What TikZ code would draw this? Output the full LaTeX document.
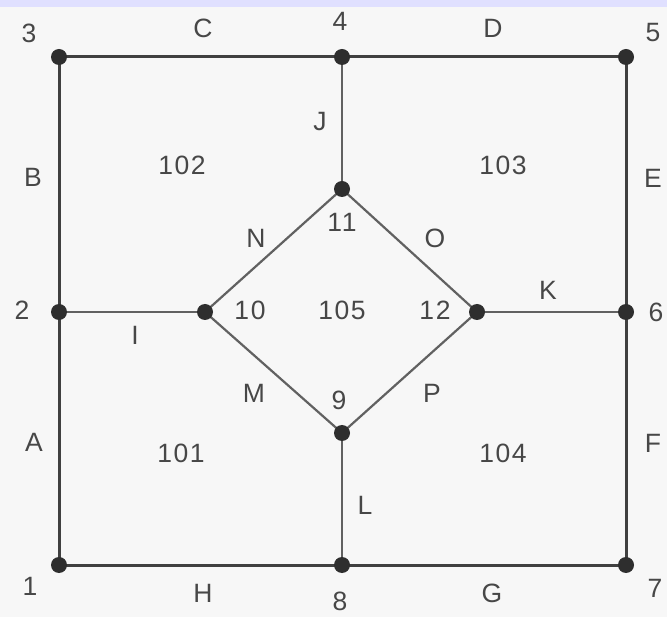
\documentclass[tikz,border=0pt]{standalone}
\usepackage{fontspec}
\setmainfont{Liberation Sans}
\newfontfamily\lblfont[LetterSpace=6]{Liberation Sans}
\begin{document}
\begin{tikzpicture}[x=1pt,y=-1pt,
  outer/.style={draw=black!75,line width=3pt},
  inner/.style={draw=black!62,line width=2.2pt},
  vtx/.style={circle,fill=black!82,inner sep=0pt,minimum size=16pt},
  lbl/.style={text=black!72,font=\lblfont\fontsize{26.5}{26.5}\selectfont,inner sep=0pt}]
\fill[white!97!black] (0,0) rectangle (667,617);
\fill[blue!12] (0,0) rectangle (667,7);
\useasboundingbox (0,0) rectangle (667,617);
% vertices
\coordinate (p1) at (59,565);
\coordinate (p2) at (59,312);
\coordinate (p3) at (59,57);
\coordinate (p4) at (342,57);
\coordinate (p5) at (626,57);
\coordinate (p6) at (626,312);
\coordinate (p7) at (626,565);
\coordinate (p8) at (342,565);
\coordinate (p9) at (342,433);
\coordinate (p10) at (205,312);
\coordinate (p11) at (342,189);
\coordinate (p12) at (477,312);
% edges
\draw[outer] (p1) -- (p2) -- (p3) -- (p4) -- (p5) -- (p6) -- (p7) -- (p8) -- cycle;
\draw[inner] (p2) -- (p10);
\draw[inner] (p4) -- (p11);
\draw[inner] (p12) -- (p6);
\draw[inner] (p9) -- (p8);
\draw[inner] (p10) -- (p11) -- (p12) -- (p9) -- cycle;
\foreach \p in {p1,p2,p3,p4,p5,p6,p7,p8,p9,p10,p11,p12}
  \node[vtx] (n\p) at (\p) {};
% vertex labels
\node[lbl] (l1) at (30,586) {1};
\node[lbl] (l2) at (22,310) {2};
\node[lbl] (l3) at (29,33) {3};
\node[lbl] (l4) at (340,21) {4};
\node[lbl] (l5) at (653,33) {5};
\node[lbl] (l6) at (656,312) {6};
\node[lbl] (l7) at (655,588) {7};
\node[lbl] (l8) at (340,601) {8};
\node[lbl] (l9) at (339,400) {9};
\node[lbl] (l10) at (250,310) {10};
\node[lbl] (l11) at (342,222) {11};
\node[lbl] (l12) at (435,310) {12};
% edge labels
\node[lbl] (eA) at (34,442) {A};
\node[lbl] (eB) at (33,177) {B};
\node[lbl] (eC) at (203,28) {C};
\node[lbl] (eD) at (493,28) {D};
\node[lbl] (eE) at (653,178) {E};
\node[lbl] (eF) at (653,443) {F};
\node[lbl] (eG) at (492,593) {G};
\node[lbl] (eH) at (203,593) {H};
\node[lbl] (eI) at (135,335) {I};
\node[lbl] (eJ) at (320,122) {J};
\node[lbl] (eK) at (548,290) {K};
\node[lbl] (eL) at (365,505) {L};
\node[lbl] (eM) at (254,393) {M};
\node[lbl] (eN) at (256,238) {N};
\node[lbl] (eO) at (435,238) {O};
\node[lbl] (eP) at (432,393) {P};
% face labels
\node[lbl] (f101) at (181,453) {101};
\node[lbl] (f102) at (182,165) {102};
\node[lbl] (f103) at (503,165) {103};
\node[lbl] (f104) at (503,453) {104};
\node[lbl] (f105) at (342,310) {105};
\end{tikzpicture}
\end{document}
